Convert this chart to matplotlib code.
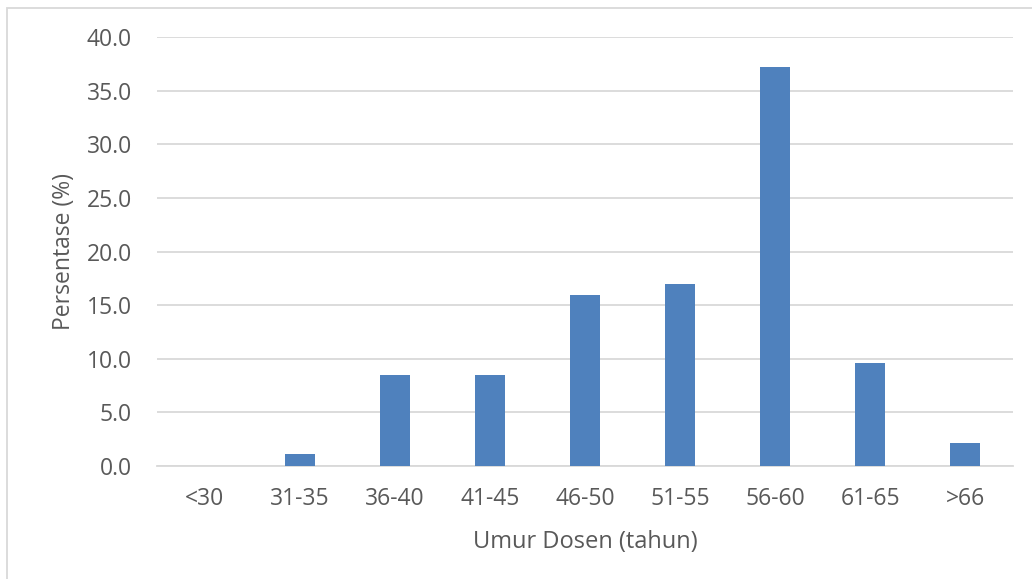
import matplotlib
matplotlib.use("Agg")
import matplotlib.pyplot as plt
from matplotlib.patches import Rectangle

categories = ["<30", "31-35", "36-40", "41-45", "46-50", "51-55", "56-60", "61-65", ">66"]
values = [0.0, 1.1, 8.5, 8.5, 16.0, 17.0, 37.2, 9.6, 2.1]
yticks = [0, 5, 10, 15, 20, 25, 30, 35, 40]

W, H = 1032, 579
fig = plt.figure(figsize=(W / 100, H / 100), dpi=100)
plt.rcParams['font.family'] = ['Open Sans', 'DejaVu Sans']

# outer chart border
fig.patches.append(Rectangle((7 / W, -0.05), 1.2, 1 - 8 / H + 0.05, transform=fig.transFigure,
                             fill=False, edgecolor='#D9D9D9', linewidth=1.3))

ax = fig.add_axes([157 / W, 1 - 466 / H, (1013 - 157) / W, (466 - 37.3) / H])
x = list(range(len(categories)))
ax.bar(x, values, width=0.315, color='#4F81BD', zorder=3)
ax.set_xlim(-0.5, len(categories) - 0.5)
ax.set_ylim(0, 40)
ax.set_yticks(yticks)
ax.set_yticklabels([f"{v:.1f}" for v in yticks])
ax.set_xticks(x)
ax.set_xticklabels(categories)
ax.grid(axis='y', color='#D9D9D9', linewidth=1.3, zorder=0)
for s in ['top', 'right', 'left']:
    ax.spines[s].set_visible(False)
ax.spines['bottom'].set_color('#D9D9D9')
ax.spines['bottom'].set_linewidth(1.3)
ax.tick_params(axis='both', length=0, labelsize=16.5, colors='#595959')
ax.tick_params(axis='y', pad=18)
ax.tick_params(axis='x', pad=15)
ax.set_xlabel("Umur Dosen (tahun)", fontsize=17, color='#595959', labelpad=14)
ax.set_ylabel("Persentase (%)", fontsize=16.5, color='#595959', labelpad=8)

fig.savefig("out.png", dpi=100)
